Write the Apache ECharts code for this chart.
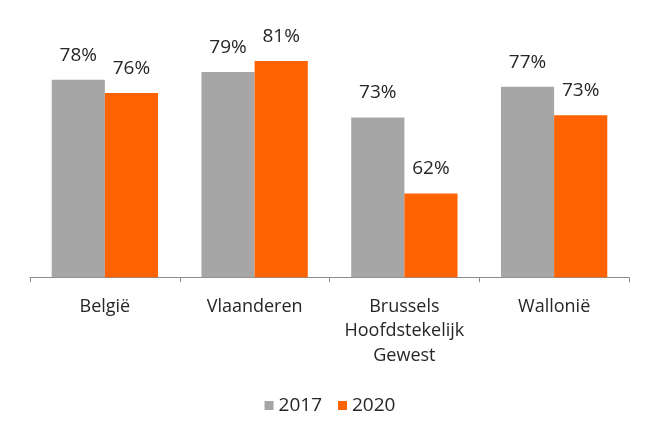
<!DOCTYPE html>
<html>
<head>
<meta charset="utf-8">
<script src="https://cdn.jsdelivr.net/npm/echarts@6/dist/echarts.min.js"></script>
<style>
html,body{margin:0;padding:0;background:#fff;}
#chart{width:660px;height:442px;}
</style>
</head>
<body>
<div id="chart"></div>
<script>
const categories = ['België', 'Vlaanderen', 'Brussels\nHoofdstekelijk\nGewest', 'Wallonië'];
const series2017 = [78.3, 79.4, 72.9, 77.3];
const series2020 = [76.4, 81.0, 62.0, 73.2];
const seriesNames = ['2017', '2020'];

const FONT = '"Open Sans", "Noto Sans", sans-serif';
const TXT = '#262626';
const chart = echarts.init(document.getElementById('chart'), null, {renderer: 'canvas'});
const labelCfg = {
  show: true,
  position: 'top',
  distance: 15,
  fontSize: 19,
  fontFamily: FONT,
  color: TXT,
  formatter: p => Math.round(p.value) + '%'
};
chart.setOption({
  animation: false,
  backgroundColor: '#fff',
  grid: {left: 30, right: 31, top: 33, bottom: 164.7, containLabel: false},
  legend: {
    data: seriesNames,
    bottom: 22,
    left: 'center',
    itemWidth: 9,
    itemHeight: 9,
    itemGap: 16,
    icon: 'rect',
    textStyle: {fontSize: 19, fontFamily: FONT, color: TXT, padding: [0, 0, 0, 0]}
  },
  xAxis: {
    type: 'category',
    data: categories,
    axisLine: {lineStyle: {color: '#8c8c8c', width: 1}},
    axisTick: {show: true, length: 5, lineStyle: {color: '#8c8c8c'}},
    axisLabel: {fontSize: 18, fontFamily: FONT, color: TXT, margin: 17, lineHeight: 24.5, interval: 0}
  },
  yAxis: {
    type: 'value',
    min: 50,
    max: 85,
    show: false,
    splitLine: {show: false}
  },
  series: [
    {name: seriesNames[0], type: 'bar', data: series2017, barGap: '0%', barCategoryGap: '29%',
     itemStyle: {color: '#a6a6a6'}, label: labelCfg},
    {name: seriesNames[1], type: 'bar', data: series2020, barGap: '0%', barCategoryGap: '29%',
     itemStyle: {color: '#ff6200'}, label: labelCfg}
  ]
});
</script>
</body>
</html>
